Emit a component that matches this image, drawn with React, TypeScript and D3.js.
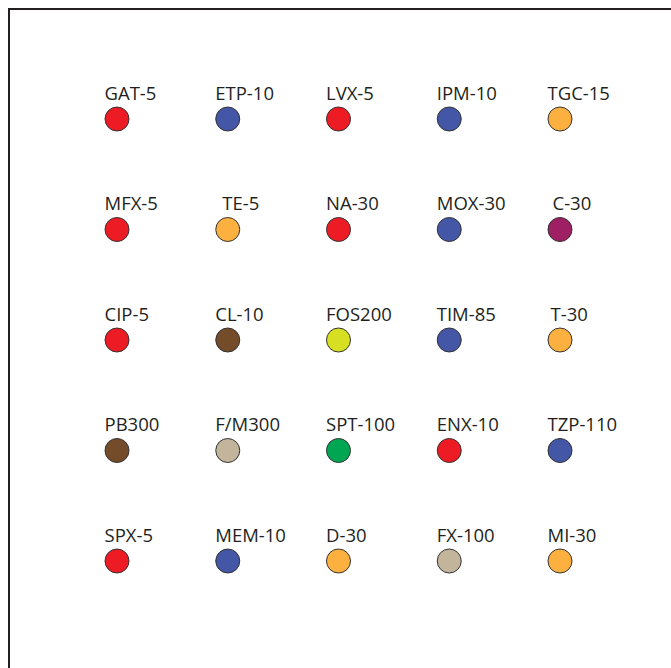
import React from "react";
import * as d3 from "d3";

const labels: string[] = [
  "GAT-5", "ETP-10", "LVX-5", "IPM-10", "TGC-15",
  "MFX-5", "TE-5", "NA-30", "MOX-30", "C-30",
  "CIP-5", "CL-10", "FOS200", "TIM-85", "T-30",
  "PB300", "F/M300", "SPT-100", "ENX-10", "TZP-110",
  "SPX-5", "MEM-10", "D-30", "FX-100", "MI-30",
];

const groups: string[] = [
  "quinolone", "betalactam", "quinolone", "betalactam", "tetracycline",
  "quinolone", "tetracycline", "quinolone", "betalactam", "phenicol",
  "quinolone", "polymyxin", "fosfomycin", "betalactam", "tetracycline",
  "polymyxin", "nitrofuran", "aminocyclitol", "quinolone", "betalactam",
  "quinolone", "betalactam", "tetracycline", "nitrofuran", "tetracycline",
];

const groupNames = ["quinolone", "betalactam", "tetracycline", "phenicol", "polymyxin", "fosfomycin", "aminocyclitol", "nitrofuran"];
const groupColors = ["#ED1C24", "#4357A6", "#FBB040", "#9E1F63", "#754C29", "#D7DF23", "#00A651", "#C2B59B"];

const NCOLS = 5;
const NROWS = 5;

export default function App() {
  const W = 671;
  const H = 668;
  const x = d3.scaleLinear().domain([0, NCOLS - 1]).range([117, 560]);
  const y = d3.scaleLinear().domain([0, NROWS - 1]).range([119, 561]);
  const color = d3.scaleOrdinal<string, string>().domain(groupNames).range(groupColors);
  const nudge: Record<string, number> = { "TE-5": 7, "C-30": 5, "T-30": 3 };
  return (
    <svg width={W} height={H} style={{ display: "block", position: "absolute", left: 0, top: 0 }}>
      <path d={`M9,${H + 5} L9,9 L${W + 5},9`} fill="none" stroke="#231F20" strokeWidth={2} />
      {labels.map((lab, i) => {
        const c = i % NCOLS;
        const r = Math.floor(i / NCOLS);
        const cx = x(c);
        const cy = y(r);
        return (
          <g key={lab}>
            <text
              x={cx - 12.5 + (nudge[lab] || 0)}
              y={cy - 19.5}
              fontFamily="'Open Sans', sans-serif"
              fontSize={18.5}
              fill="#231F20"
            >
              {lab}
            </text>
            <circle cx={cx} cy={cy} r={12} fill={color(groups[i])} stroke="#333" strokeWidth={1} />
          </g>
        );
      })}
    </svg>
  );
}
